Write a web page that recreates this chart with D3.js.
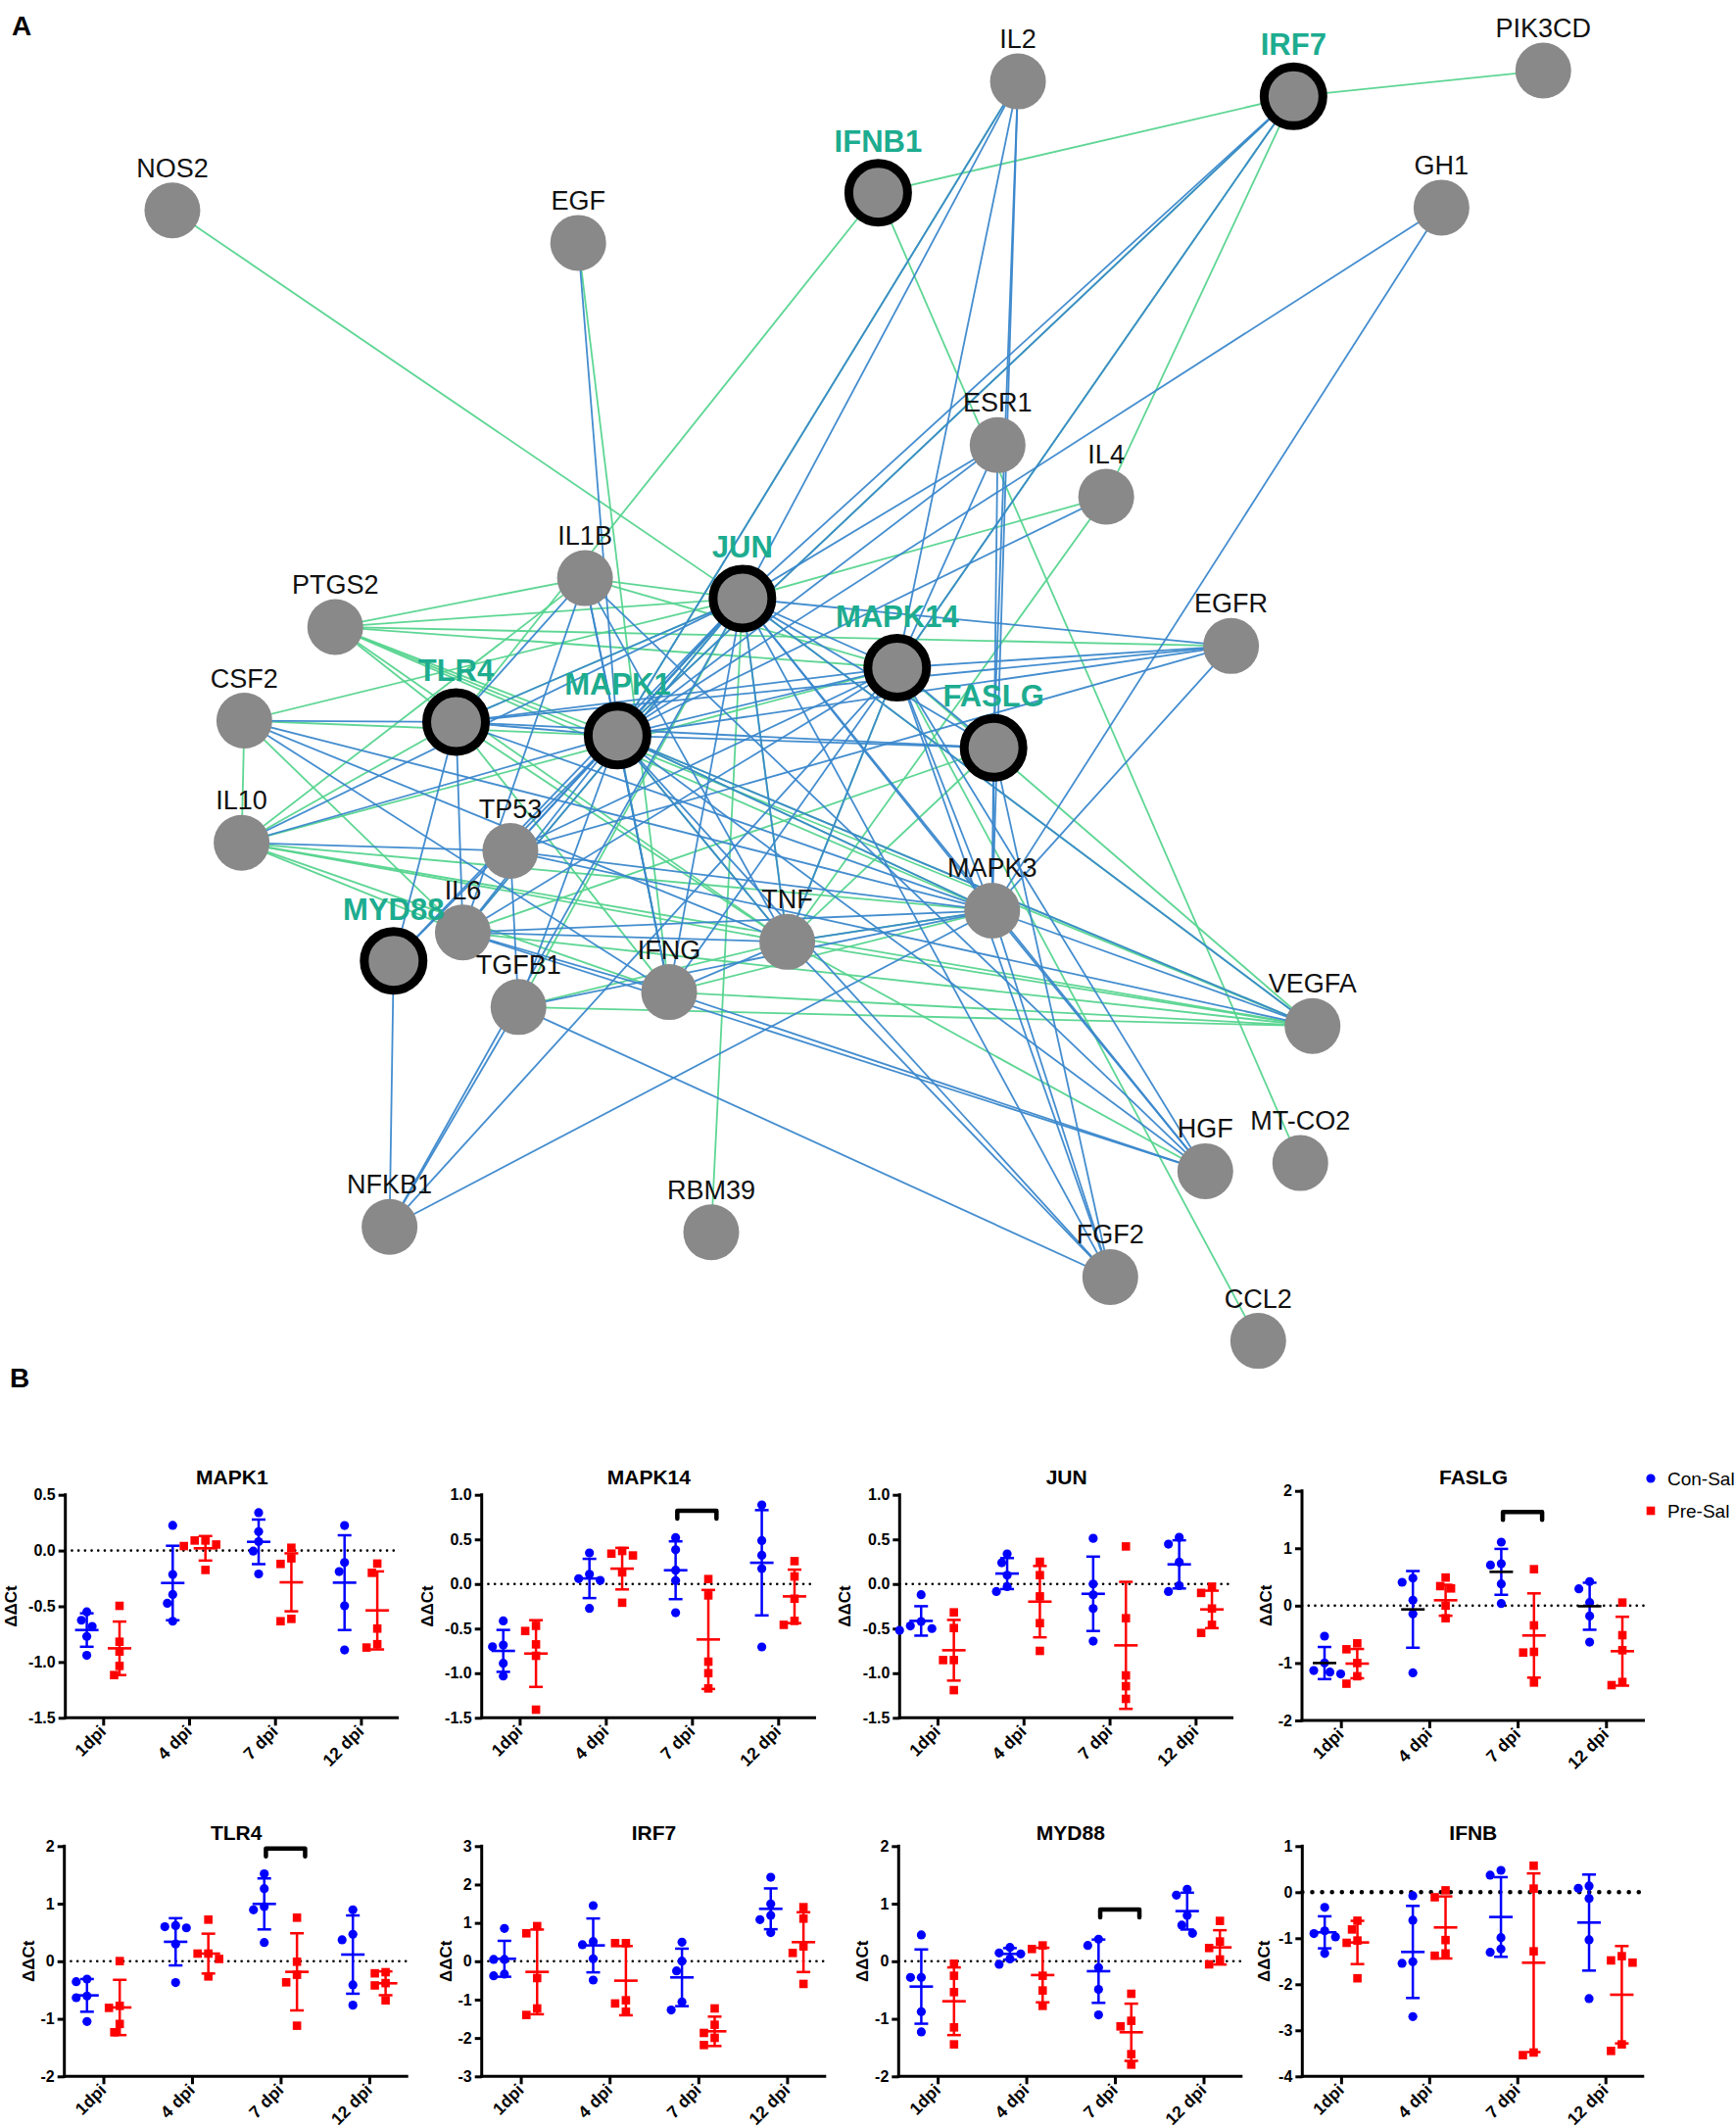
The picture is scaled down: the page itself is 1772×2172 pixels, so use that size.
<!DOCTYPE html>
<html><head><meta charset="utf-8">
<script src="https://cdn.jsdelivr.net/npm/d3@7"></script>
<style>body{margin:0;background:#fff}svg{display:block}text{font-family:"Liberation Sans",Arial,Helvetica,sans-serif}</style>
</head><body><svg id="fig" width="1772" height="2172"></svg>
<script>
// ================= DATA: Panel A network =================
const genes = ["IL2","IRF7","PIK3CD","NOS2","EGF","IFNB1","GH1","ESR1","IL4","IL1B","JUN","PTGS2","EGFR","MAPK14","CSF2","TLR4","MAPK1","FASLG","IL10","TP53","MAPK3","IL6","MYD88","TNF","IFNG","TGFB1","VEGFA","HGF","MT-CO2","NFKB1","RBM39","FGF2","CCL2"];
const queryGenes = ["IRF7","IFNB1","JUN","MAPK14","TLR4","MAPK1","FASLG","MYD88"];
// layout coordinates of the network (figure units, 1279 x 1568)
const layoutX = [750,953,1137,127,426,647,1062,735,815,431,547,247,907,661,180,336,455,732,178,376,731,341,290,580,493,382,967,888,958,287,524,818,927];
const layoutY = [60,71,52,155,179,142,153,328,366,426,441,462,476,492,531,532,542,551,621,627,671,687,708,694,731,742,756,863,857,904,908,941,988];
const blueLinks = [
["JUN","MAPK1"],["JUN","MAPK14"],["JUN","MAPK3"],["JUN","FASLG"],["JUN","TNF"],["JUN","IL6"],["JUN","TLR4"],["JUN","IFNG"],["JUN","TP53"],["JUN","IL10"],["JUN","EGFR"],["JUN","ESR1"],["JUN","IL2"],["JUN","IRF7"],["JUN","VEGFA"],["JUN","HGF"],["JUN","FGF2"],["JUN","NFKB1"],["JUN","MYD88"],
["MAPK1","MAPK14"],["MAPK1","MAPK3"],["MAPK1","FASLG"],["MAPK1","TNF"],["MAPK1","IL6"],["MAPK1","TLR4"],["MAPK1","IFNG"],["MAPK1","TGFB1"],["MAPK1","TP53"],["MAPK1","IL1B"],["MAPK1","IL10"],["MAPK1","EGFR"],["MAPK1","ESR1"],["MAPK1","IL4"],["MAPK1","IL2"],["MAPK1","IRF7"],["MAPK1","EGF"],["MAPK1","GH1"],["MAPK1","VEGFA"],["MAPK1","HGF"],["MAPK1","FGF2"],["MAPK1","MYD88"],
["MAPK14","MAPK3"],["MAPK14","FASLG"],["MAPK14","TNF"],["MAPK14","TLR4"],["MAPK14","IL6"],["MAPK14","TP53"],["MAPK14","EGFR"],["MAPK14","ESR1"],["MAPK14","IRF7"],["MAPK14","IL2"],["MAPK14","HGF"],["MAPK14","FGF2"],["MAPK14","IFNG"],["MAPK14","NFKB1"],
["MAPK3","FASLG"],["MAPK3","TNF"],["MAPK3","IL6"],["MAPK3","TLR4"],["MAPK3","TGFB1"],["MAPK3","TP53"],["MAPK3","CSF2"],["MAPK3","EGFR"],["MAPK3","ESR1"],["MAPK3","IL2"],["MAPK3","GH1"],["MAPK3","VEGFA"],["MAPK3","HGF"],["MAPK3","FGF2"],["MAPK3","NFKB1"],
["FASLG","IL2"],["FASLG","TLR4"],["FASLG","FGF2"],
["TLR4","MYD88"],["TLR4","CSF2"],["TLR4","IL6"],["TLR4","IL1B"],["TLR4","EGFR"],
["TNF","IL6"],["TNF","IL1B"],["TNF","IFNG"],["TNF","FGF2"],["TNF","CSF2"],
["IL6","IL1B"],["IL6","IFNG"],["IL6","HGF"],["IFNG","IL1B"],["IFNG","HGF"],
["TGFB1","NFKB1"],["TGFB1","FGF2"],["TGFB1","TP53"],["TP53","IL10"],["TP53","VEGFA"],["TP53","EGFR"],
["IL1B","HGF"],["CSF2","IFNG"],["NFKB1","MYD88"]
];
const greenLinks = [
["JUN","MAPK1"],["JUN","TNF"],["JUN","IL6"],["JUN","TLR4"],["JUN","TGFB1"],["JUN","IL1B"],["JUN","PTGS2"],["JUN","CSF2"],["JUN","IL4"],["JUN","NOS2"],["JUN","RBM39"],["JUN","VEGFA"],
["MAPK1","MAPK3"],["MAPK1","TNF"],["MAPK1","IFNG"],["MAPK1","PTGS2"],["MAPK1","CSF2"],["MAPK1","IL2"],["MAPK1","IRF7"],["MAPK1","VEGFA"],
["MAPK14","TNF"],["MAPK14","IL1B"],["MAPK14","PTGS2"],["MAPK14","IRF7"],["MAPK14","CCL2"],["MAPK14","VEGFA"],["MAPK14","IL10"],
["MAPK3","TNF"],["MAPK3","IFNG"],["MAPK3","PTGS2"],["MAPK3","IL10"],
["FASLG","TNF"],["FASLG","IL6"],
["TLR4","IL10"],["TLR4","TNF"],["TLR4","IFNB1"],["TLR4","IFNG"],["TLR4","PTGS2"],
["TNF","PTGS2"],["TNF","IL10"],["TNF","TGFB1"],["TNF","HGF"],["TNF","VEGFA"],["TNF","IL4"],
["IL6","VEGFA"],["IL6","IL10"],["IL6","CSF2"],["IFNG","VEGFA"],["IFNG","EGF"],["IFNG","IL10"],["TGFB1","VEGFA"],
["IL1B","PTGS2"],["IL1B","IL10"],["CSF2","IL10"],["IL10","VEGFA"],["PTGS2","VEGFA"],["PTGS2","EGFR"],
["IRF7","IFNB1"],["IRF7","PIK3CD"],["IRF7","IL4"],["IFNB1","MT-CO2"]
];

// ================= DATA: Panel B (ΔΔCt) =================
const timepoints = ["1dpi","4 dpi","7 dpi","12 dpi"];
const panelGenes = ["MAPK1","MAPK14","JUN","FASLG","TLR4","IRF7","MYD88","IFNB"];
const panelDomains = [[-1.5,0.5],[-1.5,1],[-1.5,1],[-2,2],[-2,2],[-3,3],[-2,2],[-4,1]];
const panelTicks = [[0.5,0,-0.5,-1,-1.5],[1,0.5,0,-0.5,-1,-1.5],[1,0.5,0,-0.5,-1,-1.5],[2,1,0,-1,-2],[2,1,0,-1,-2],[3,2,1,0,-1,-2,-3],[2,1,0,-1,-2],[1,0,-1,-2,-3,-4]];

const MAPK1_con = [[-0.55,-0.625,-0.68,-0.77,-0.94],[0.226,-0.215,-0.394,-0.473,-0.634],[0.34,0.17,0.08,-0.005,-0.21],[0.224,-0.107,-0.189,-0.496,-0.892]];
const MAPK1_conMean = [-0.713,-0.291,0.078,-0.288];
const MAPK1_conSD = [0.15,0.334,0.2,0.425];
const MAPK1_pre = [[-0.496,-0.818,-0.906,-1.035,-1.117],[0.09,0.09,0.054,0.04,-0.174],[0.025,-0.07,-0.12,-0.613,-0.634],[-0.117,-0.2,-0.7,-0.84,-0.87]];
const MAPK1_preMean = [-0.877,0.02,-0.285,-0.537];
const MAPK1_preSD = [0.24,0.11,0.26,0.35];

const MAPK14_con = [[-0.414,-0.684,-0.703,-0.889,-1.032],[0.348,0.11,0.06,0.04,-0.274],[0.52,0.384,0.154,0.037,-0.322],[0.886,0.487,0.322,0.172,-0.706]];
const MAPK14_conMean = [-0.75,0.062,0.154,0.238];
const MAPK14_conSD = [0.235,0.22,0.324,0.59];
const MAPK14_pre = [[-0.469,-0.527,-0.677,-0.805,-1.409],[0.37,0.34,0.32,0.13,-0.21],[0.055,-0.128,-0.871,-1.0,-1.171],[0.256,0.084,-0.165,-0.414,-0.458]];
const MAPK14_preMean = [-0.78,0.172,-0.622,-0.139];
const MAPK14_preSD = [0.374,0.233,0.555,0.3];

const JUN_con = [[-0.12,-0.42,-0.47,-0.5,-0.52],[0.337,0.238,0.099,-0.03,-0.084],[0.512,0,-0.121,-0.275,-0.641],[0.523,0.447,0.245,-0.018,-0.084]];
const JUN_conMean = [-0.414,0.117,-0.11,0.22];
const JUN_conSD = [0.165,0.174,0.417,0.27];
const JUN_pre = [[-0.318,-0.494,-0.853,-0.853,-1.19],[0.249,0.099,-0.139,-0.439,-0.75],[0.421,-0.384,-1.025,-1.146,-1.288],[-0.03,-0.1,-0.275,-0.458,-0.549]];
const JUN_preMean = [-0.743,-0.198,-0.688,-0.285];
const JUN_preSD = [0.34,0.4,0.712,0.21];

const FASLG_con = [[-0.532,-0.999,-1.13,-1.158,-1.19],[0.48,0.407,0.094,-0.145,-1.17],[1.107,0.73,0.708,0.378,0.037],[0.418,0.293,0.054,-0.18,-0.635]];
const FASLG_conMean = [-1.0,-0.065,0.589,-0.01];
const FASLG_conSD = [0.28,0.668,0.4,0.41];
const FASLG_pre = [[-0.657,-0.76,-1.0,-1.23,-1.36],[0.49,0.34,0.3,0.0,-0.22],[0.635,-0.344,-0.805,-0.817,-1.34],[0.054,-0.515,-0.777,-1.33,-1.385]];
const FASLG_preMean = [-1.01,0.094,-0.52,-0.794];
const FASLG_preSD = [0.255,0.27,0.734,0.6];

const TLR4_con = [[-0.31,-0.355,-0.604,-0.633,-1.047],[0.62,0.6,0.58,0.3,-0.37],[1.518,1.262,0.95,0.894,0.326],[0.894,0.468,0.372,-0.411,-0.763]];
const TLR4_conMean = [-0.593,0.338,0.996,0.116];
const TLR4_conSD = [0.284,0.41,0.443,0.68];
const TLR4_pre = [[0.003,-0.775,-0.81,-1.09,-1.234],[0.723,0.133,0.133,0.04,-0.264],[0.757,-0.008,-0.235,-0.366,-1.12],[-0.19,-0.21,-0.38,-0.42,-0.68]];
const TLR4_preMean = [-0.803,0.133,-0.184,-0.383];
const TLR4_preSD = [0.48,0.346,0.67,0.207];

const IRF7_con = [[0.855,0.047,0.047,-0.336,-0.379],[1.45,0.515,0.43,0.064,-0.49],[0.498,0.004,-0.251,-1.06,-1.272],[2.19,1.494,1.196,1.085,0.745]];
const IRF7_conMean = [0.064,0.413,-0.421,1.366];
const IRF7_conSD = [0.468,0.702,0.749,0.532];
const IRF7_pre = [[0.915,0.728,-0.438,-1.23,-1.4],[0.472,0.472,-1.017,-1.1,-1.315],[-1.23,-1.655,-1.868,-1.996,-2.183],[1.409,1.111,0.387,0.217,-0.591]];
const IRF7_preMean = [-0.277,-0.506,-1.826,0.498];
const IRF7_preSD = [1.104,0.902,0.383,0.779];

const MYD88_con = [[0.457,-0.281,-0.281,-0.877,-1.228],[0.24,0.145,0.128,0.04,-0.054],[0.383,0.275,-0.111,-0.49,-0.933],[1.251,1.149,0.797,0.627,0.485]];
const MYD88_conMean = [-0.44,0.128,-0.173,0.871];
const MYD88_conSD = [0.645,0.1,0.55,0.32];
const MYD88_pre = [[-0.043,-0.252,-0.536,-1.149,-1.444],[0.275,0.213,-0.252,-0.508,-0.775],[-0.565,-1.035,-1.132,-1.614,-1.796],[0.701,0.343,0.23,0.031,-0.054]];
const MYD88_preMean = [-0.695,-0.24,-1.234,0.241];
const MYD88_preSD = [0.588,0.474,0.497,0.298];

const IFNB_con = [[-0.33,-0.84,-0.9,-0.97,-1.33],[-0.078,-0.61,-1.511,-1.546,-2.702],[0.475,0.369,-0.986,-1.234,-1.305],[0.135,0.085,-0.135,-1.035,-2.312]];
const IFNB_conMean = [-0.872,-1.298,-0.539,-0.66];
const IFNB_conSD = [0.348,1.0,0.865,1.043];
const IFNB_pre = [[-0.62,-0.81,-1.05,-1.1,-1.87],[0.04,-0.11,-1.04,-1.33,-1.38],[0.574,0.078,-1.284,-3.539,-3.482],[-1.39,-1.482,-1.53,-3.305,-3.447]];
const IFNB_preMean = [-1.092,-0.766,-1.532,-2.227];
const IFNB_preSD = [0.47,0.674,1.94,1.057];

// significance brackets (gene, timepoint, level in ΔΔCt)
const bracketGenes = ["MAPK14","FASLG","TLR4","MYD88"];
const bracketTimes = ["7 dpi","7 dpi","7 dpi","7 dpi"];
const bracketLevels = [0.82,1.63,1.96,0.9];

const seriesNames = ["Con-Sal","Pre-Sal"];

// ================= DRAWING =================
const svg = d3.select("#fig");
const BLUE = "#0000ff", RED = "#ff0000";
const EDGE_BLUE = "#3a87cc", EDGE_GREEN = "#55d48e";
const TEAL = "#1dac8f";

svg.append("text").attr("x",12).attr("y",36).attr("font-size",28).attr("font-weight","bold").text("A");
svg.append("text").attr("x",10).attr("y",1416).attr("font-size",28).attr("font-weight","bold").text("B");

// ---- network
const sx = d3.scaleLinear().domain([0,1279]).range([0,1772]);
const sy = d3.scaleLinear().domain([0,1568]).range([0,2172]);
const pos = new Map(genes.map((g,i)=>[g,{x:sx(layoutX[i]),y:sy(layoutY[i])}]));
const net = svg.append("g");
const links = [];
greenLinks.forEach(l=>links.push({s:l[0],t:l[1],c:EDGE_GREEN}));
blueLinks.forEach(l=>links.push({s:l[0],t:l[1],c:EDGE_BLUE}));
net.append("g").selectAll("line").data(links).join("line")
  .attr("x1",d=>pos.get(d.s).x).attr("y1",d=>pos.get(d.s).y)
  .attr("x2",d=>pos.get(d.t).x).attr("y2",d=>pos.get(d.t).y)
  .attr("stroke",d=>d.c).attr("stroke-width",1.8).attr("stroke-opacity",0.95);
const isQ = g=>queryGenes.includes(g);
net.append("g").selectAll("circle").data(genes).join("circle")
  .attr("cx",g=>pos.get(g).x).attr("cy",g=>pos.get(g).y)
  .attr("r",g=>isQ(g)?30:28.5)
  .attr("fill","#898989")
  .attr("stroke",g=>isQ(g)?"#000":"none").attr("stroke-width",g=>isQ(g)?9:0);
net.append("g").selectAll("text").data(genes).join("text")
  .attr("x",g=>pos.get(g).x).attr("y",g=>pos.get(g).y-(isQ(g)?42:34))
  .attr("text-anchor","middle")
  .attr("font-size",g=>isQ(g)?31:27)
  .attr("font-weight",g=>isQ(g)?"bold":"normal")
  .attr("fill",g=>isQ(g)?TEAL:"#111")
  .text(g=>g);

// ---- scatter panels
const panelLayout = [
 {x0:66.7,x1:407,y0:1525.7,y1:1753.3,lab:-56,ty:1515},
 {x0:491.7,x1:833,y0:1525.7,y1:1753.3,lab:-56,ty:1515},
 {x0:918.3,x1:1259,y0:1525.7,y1:1753.3,lab:-56,ty:1515},
 {x0:1329,x1:1679,y0:1521.7,y1:1756,lab:-37,ty:1515},
 {x0:65.7,x1:416.7,y0:1884.3,y1:2119.3,lab:-37,ty:1878},
 {x0:491.7,x1:843.3,y0:1884.3,y1:2119.3,lab:-37,ty:1878},
 {x0:917.3,x1:1268.3,y0:1884.3,y1:2119.3,lab:-37,ty:1878},
 {x0:1329.3,x1:1678.3,y0:1884.3,y1:2119.3,lab:-39,ty:1878}
];
const dataByGene = {
 MAPK1:[MAPK1_con,MAPK1_conMean,MAPK1_conSD,MAPK1_pre,MAPK1_preMean,MAPK1_preSD],
 MAPK14:[MAPK14_con,MAPK14_conMean,MAPK14_conSD,MAPK14_pre,MAPK14_preMean,MAPK14_preSD],
 JUN:[JUN_con,JUN_conMean,JUN_conSD,JUN_pre,JUN_preMean,JUN_preSD],
 FASLG:[FASLG_con,FASLG_conMean,FASLG_conSD,FASLG_pre,FASLG_preMean,FASLG_preSD],
 TLR4:[TLR4_con,TLR4_conMean,TLR4_conSD,TLR4_pre,TLR4_preMean,TLR4_preSD],
 IRF7:[IRF7_con,IRF7_conMean,IRF7_conSD,IRF7_pre,IRF7_preMean,IRF7_preSD],
 MYD88:[MYD88_con,MYD88_conMean,MYD88_conSD,MYD88_pre,MYD88_preMean,MYD88_preSD],
 IFNB:[IFNB_con,IFNB_conMean,IFNB_conSD,IFNB_pre,IFNB_preMean,IFNB_preSD]
};

function swarm(vals, cx, y) {
  const placed = [], out = new Array(vals.length);
  const order = vals.map((v,i)=>({v,i})).sort((a,b)=>b.v-a.v);
  const cand = [0,-5.5,5.5,-11,11,-16.5,16.5,-22,22];
  for (const o of order) {
    const py = y(o.v);
    for (const c of cand) {
      if (placed.every(p=>Math.hypot(p.x-c,p.y-py)>=10)) { placed.push({x:c,y:py}); out[o.i]={x:cx+c,y:py}; break; }
    }
  }
  return out;
}

panelGenes.forEach((gene,pi)=>{
  const L = panelLayout[pi];
  const g = svg.append("g");
  const x = d3.scalePoint().domain(timepoints).range([L.x0,L.x1]).padding(0.44);
  const y = d3.scaleLinear().domain(panelDomains[pi]).range([L.y1,L.y0]);
  const decimals = (pi<3);
  const fmt = v => decimals ? v.toFixed(1) : String(v);

  const bold0 = gene==="IFNB";
  g.append("line").attr("x1",L.x0).attr("x2",L.x1).attr("y1",y(0)).attr("y2",y(0))
   .attr("stroke","#000").attr("stroke-width",bold0?4.5:2.6)
   .attr("stroke-dasharray",bold0?"0.1,10":"0.1,6.6").attr("stroke-linecap","round");

  const ya = g.append("g").attr("transform",`translate(${L.x0},0)`)
    .call(d3.axisLeft(y).tickValues(panelTicks[pi]).tickFormat(fmt).tickSize(7).tickPadding(3));
  const xa = g.append("g").attr("transform",`translate(0,${L.y1})`)
    .call(d3.axisBottom(x).tickSize(8).tickFormat(""));
  [ya,xa].forEach(a=>{
    a.select(".domain").remove();
    a.selectAll(".tick line").attr("stroke","#000").attr("stroke-width",3);
  });
  g.append("line").attr("x1",L.x0).attr("x2",L.x0).attr("y1",L.y0-1.5).attr("y2",L.y1+1.5).attr("stroke","#000").attr("stroke-width",3);
  g.append("line").attr("x1",L.x0-1.5).attr("x2",L.x1).attr("y1",L.y1).attr("y2",L.y1).attr("stroke","#000").attr("stroke-width",3);
  ya.selectAll(".tick text").attr("font-size",16).attr("font-weight","bold").attr("fill","#000")
    .attr("font-family","Liberation Sans, Arial, sans-serif");
  timepoints.forEach(t=>{
    g.append("text").attr("transform",`translate(${x(t)+4},${L.y1+15}) rotate(-45)`)
     .attr("text-anchor","end").attr("font-size",17.5).attr("font-weight","bold").text(t);
  });
  g.append("text").attr("transform",`translate(${L.x0+L.lab},${(L.y0+L.y1)/2}) rotate(-90)`)
   .attr("text-anchor","middle").attr("dy","0.35em").attr("font-size",17).attr("font-weight","bold").text("ΔΔCt");
  g.append("text").attr("x",(L.x0+L.x1)/2).attr("y",L.ty).attr("text-anchor","middle")
   .attr("font-size",21).attr("font-weight","bold").text(gene);

  const [con,conM,conS,pre,preM,preS] = dataByGene[gene];
  const groups = [
    {pts:con,m:conM,s:conS,c:BLUE,off:-16.7,mc: gene==="FASLG" ? "#000" : BLUE,shape:"circle"},
    {pts:pre,m:preM,s:preS,c:RED,off:16.7,mc:RED,shape:"square"}
  ];
  groups.forEach(G=>{
    timepoints.forEach((t,ti)=>{
      const cx = x(t)+G.off;
      const mean = G.m[ti], sd = G.s[ti];
      const P = swarm(G.pts[ti], cx, y);
      if (G.shape==="circle") {
        g.append("g").selectAll("circle").data(P).join("circle")
          .attr("cx",d=>d.x).attr("cy",d=>d.y).attr("r",4.6).attr("fill",G.c);
      } else {
        g.append("g").selectAll("rect").data(P).join("rect")
          .attr("x",d=>d.x-4.3).attr("y",d=>d.y-4.3).attr("width",8.6).attr("height",8.6).attr("fill",G.c);
      }
      g.append("line").attr("x1",cx).attr("x2",cx).attr("y1",y(mean+sd)).attr("y2",y(mean-sd))
        .attr("stroke",G.c).attr("stroke-width",2.5);
      [mean+sd,mean-sd].forEach(v=>g.append("line").attr("x1",cx-7).attr("x2",cx+7).attr("y1",y(v)).attr("y2",y(v))
        .attr("stroke",G.c).attr("stroke-width",2.5));
      g.append("line").attr("x1",cx-12).attr("x2",cx+12).attr("y1",y(mean)).attr("y2",y(mean))
        .attr("stroke",G.mc).attr("stroke-width",2.6);
    });
  });
  bracketGenes.forEach((bg,bi)=>{
    if (bg!==gene) return;
    const t = bracketTimes[bi];
    const by = y(bracketLevels[bi]);
    const xl = x(t)-15, xr = x(t)+25;
    g.append("path").attr("d",`M${xl},${by+8}L${xl},${by}L${xr},${by}L${xr},${by+8}`)
      .attr("fill","none").attr("stroke","#000").attr("stroke-width",4.5).attr("stroke-linejoin","round").attr("stroke-linecap","round");
  });
});

const legend = svg.append("g");
seriesNames.forEach((n,i)=>{
  const ly = 1509 + i*33;
  if (i===0) legend.append("circle").attr("cx",1685).attr("cy",ly).attr("r",4.6).attr("fill",BLUE);
  else legend.append("rect").attr("x",1680.7).attr("y",ly-4.3).attr("width",8.6).attr("height",8.6).attr("fill",RED);
  legend.append("text").attr("x",1702).attr("y",ly+7).attr("font-size",19).text(n);
});
</script></body></html>
